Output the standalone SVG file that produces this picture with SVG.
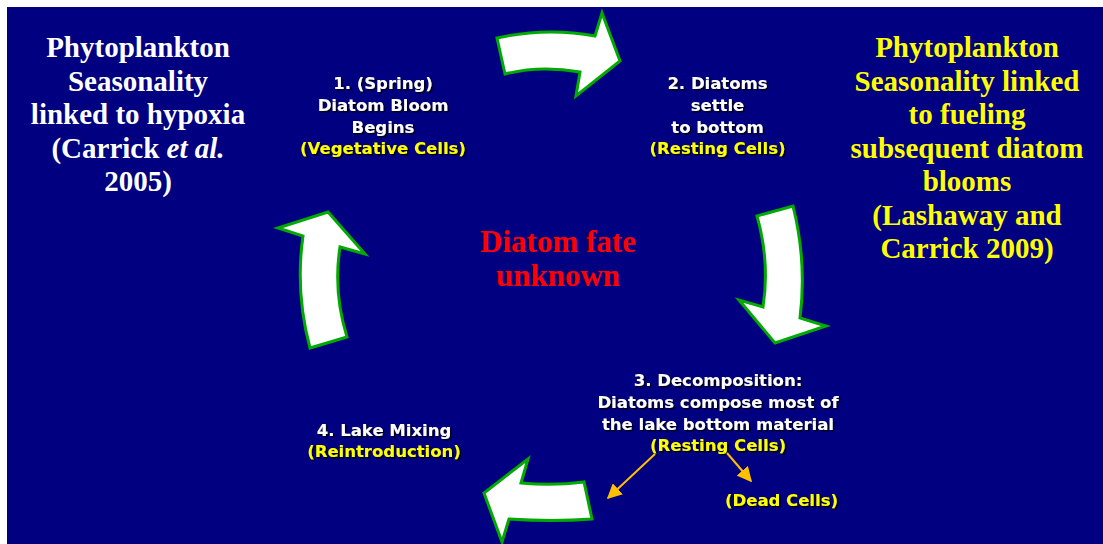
<svg xmlns="http://www.w3.org/2000/svg" width="1103" height="544" viewBox="0 0 1103 544">
<defs>
<filter id="sh" x="-5%" y="-5%" width="110%" height="120%">
<feDropShadow dx="1.5" dy="1.5" stdDeviation="0.6" flood-color="#000000" flood-opacity="0.85"/>
</filter>
<marker id="ah" viewBox="0 0 10 10" refX="9" refY="5" markerWidth="7.5" markerHeight="7.5" orient="auto" markerUnits="strokeWidth">
<path d="M0,0 L10,5 L0,10 Z" fill="#FFC000"/>
</marker>
</defs>
<style>
.big{font-family:"Liberation Serif","Times New Roman",serif;font-weight:bold;font-size:29px;text-anchor:middle}
.lbl{font-family:"DejaVu Sans",Verdana,sans-serif;font-weight:bold;font-size:16.5px;text-anchor:middle;fill:#FFFFFF}
.y{fill:#FFFF00}
.blk{fill:#FFFFFF;stroke:#00AA00;stroke-width:3;stroke-linejoin:miter}
.pt{stroke:#FFC000;stroke-width:2;fill:none;marker-end:url(#ah)}
</style>
<rect x="0" y="0" width="1103" height="544" fill="#FFFFFF"/>
<rect x="7" y="7" width="1096" height="537" fill="#000080"/>

<g id="left-title" class="big" fill="#FFFFFF">
<text x="138" y="57">Phytoplankton</text>
<text x="138" y="90.5">Seasonality</text>
<text x="138" y="124">linked to hypoxia</text>
<text x="138" y="157.5">(Carrick <tspan font-style="italic">et al.</tspan></text>
<text x="138" y="191">2005)</text>
</g>

<g id="right-title" class="big" fill="#FFFF00">
<text x="967" y="57">Phytoplankton</text>
<text x="967" y="90.5">Seasonality linked</text>
<text x="967" y="124">to fueling</text>
<text x="967" y="157.5">subsequent diatom</text>
<text x="967" y="191">blooms</text>
<text x="967" y="224.5">(Lashaway and</text>
<text x="967" y="258">Carrick 2009)</text>
</g>

<g id="center" class="big" fill="#FF0000" style="font-size:31px">
<text x="558" y="252">Diatom fate</text>
<text x="558" y="286">unknown</text>
</g>

<g id="node1" filter="url(#sh)">
<text class="lbl" x="383" y="89">1. (Spring)</text>
<text class="lbl" x="383" y="111">Diatom Bloom</text>
<text class="lbl" x="383" y="132.5">Begins</text>
<text class="lbl y" x="383" y="154">(Vegetative Cells)</text>
</g>

<g id="node2" filter="url(#sh)">
<text class="lbl" x="717.5" y="89">2. Diatoms</text>
<text class="lbl" x="717.5" y="111">settle</text>
<text class="lbl" x="717.5" y="132.5">to bottom</text>
<text class="lbl y" x="717.5" y="154">(Resting Cells)</text>
</g>

<g id="node3" filter="url(#sh)">
<text class="lbl" x="718" y="386">3. Decomposition:</text>
<text class="lbl" x="718" y="408">Diatoms compose most of</text>
<text class="lbl" x="718" y="429.5">the lake bottom material</text>
<text class="lbl y" x="718" y="451">(Resting Cells)</text>
</g>

<g id="node-dead" filter="url(#sh)">
<text class="lbl y" x="781.5" y="506">(Dead Cells)</text>
</g>

<g id="node4" filter="url(#sh)">
<text class="lbl" x="384" y="435.5">4. Lake Mixing</text>
<text class="lbl y" x="384" y="457">(Reintroduction)</text>
</g>

<g id="connectors">
<path class="blk" d="M497,38 Q546,27 595,36 L602,13 L620,61 L576,96 L580,72 Q540,65 505,74 Z"/>
<path class="blk" d="M757,216 L793,206 Q807,262 800,318 L826,326 L775,343 L739,300 L763,307 Q770,262 757,216 Z"/>
<path class="blk" d="M584,482 Q553,486 521,483 L528,459 L484,493 L502,542 L509,519 Q553,522 592,519 Z"/>
<path class="blk" d="M278,228 L328,212 L365,254 L340,247 Q333,292 347,337 L310,348 Q295,292 303,236 Z"/>
<path class="pt" d="M655,454 L608,498"/>
<path class="pt" d="M727,453 L751,481"/>
</g>
</svg>
